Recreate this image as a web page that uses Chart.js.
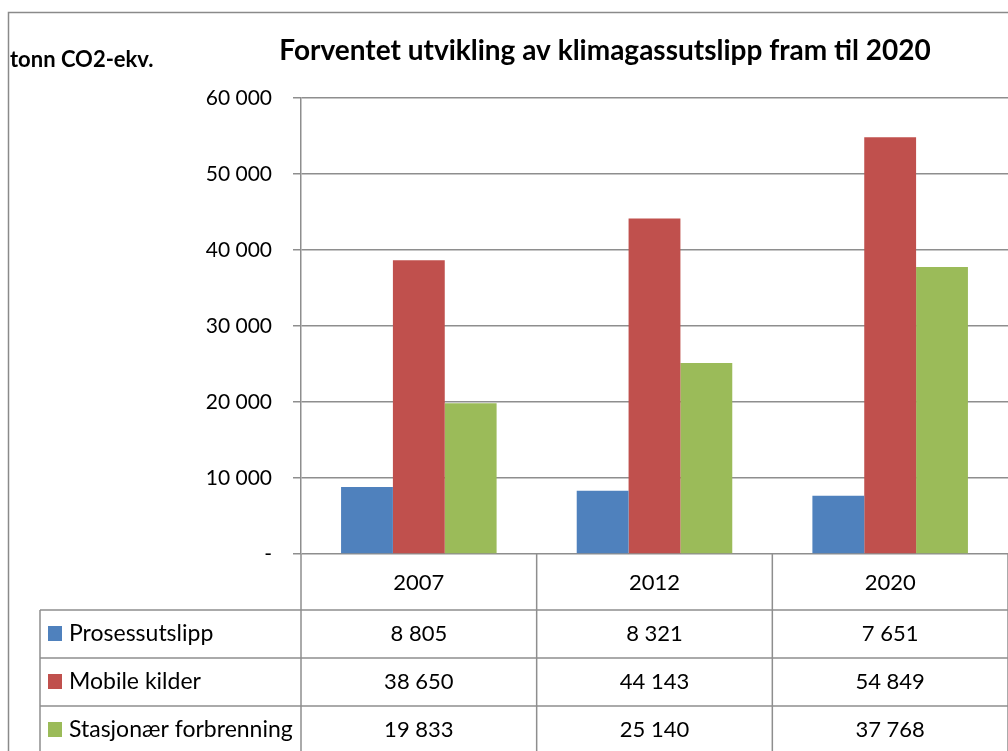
<!DOCTYPE html>
<html><head><meta charset="utf-8">
<script src="https://cdn.jsdelivr.net/npm/chart.js@4"></script>
<style>html,body{margin:0;padding:0;background:#fff;}#wrap{width:1008px;height:751px;}</style>
</head><body><div id="wrap"><canvas id="c" width="1008" height="751"></canvas></div>
<script>
const categories = ['2007', '2012', '2020'];
const seriesNames = ['Prosessutslipp', 'Mobile kilder', 'Stasjonær forbrenning'];
const prosessutslipp = [8805, 8321, 7651];
const mobileKilder = [38650, 44143, 54849];
const stasjonarForbrenning = [19833, 25140, 37768];
const yTicks = [0, 10000, 20000, 30000, 40000, 50000, 60000];
const titleText = 'Forventet utvikling av klimagassutslipp fram til 2020';
const yTitleText = 'tonn CO2-ekv.';
const colors = ['#4F81BD', '#C0504D', '#9BBB59'];
const FONT = "Lato, 'Open Sans', sans-serif";

function fmt(n) {
  if (n === 0) return '-';
  return String(n).replace(/\B(?=(\d{3})+(?!\d))/g, ' ');
}

const seriesData = [prosessutslipp, mobileKilder, stasjonarForbrenning];
const GRID = '#8e8e8e';

const decorPlugin = {
  id: 'decor',
  beforeDraw(chart) {
    const ctx = chart.ctx;
    ctx.save();
    ctx.fillStyle = '#fff';
    ctx.fillRect(0, 0, chart.width, chart.height);
    ctx.restore();
  },
  afterDraw(chart) {
    const ctx = chart.ctx;
    const ca = chart.chartArea;
    const xs = chart.scales.x;
    const catW = (ca.right - ca.left) / categories.length;
    ctx.save();
    // outer border
    ctx.strokeStyle = '#8a8a8a';
    ctx.lineWidth = 1.5;
    ctx.beginPath();
    ctx.moveTo(8.5, chart.height + 5);
    ctx.lineTo(8.5, 12.5);
    ctx.lineTo(chart.width + 5, 12.5);
    ctx.stroke();

    // titles
    ctx.fillStyle = '#000';
    ctx.textBaseline = 'middle';
    ctx.textAlign = 'center';
    ctx.font = "bold 28px " + FONT;
    ctx.fillText(titleText, 605, 51);
    ctx.textAlign = 'left';
    ctx.font = "bold 22px " + FONT;
    ctx.fillText(yTitleText, 10, 60);

    // table
    const top = ca.bottom;
    const rowH = 48;
    const headerBottom = top + 56;
    const tableLeft = 40;
    ctx.strokeStyle = GRID;
    ctx.lineWidth = 1.5;
    ctx.beginPath();
    for (let i = 0; i <= categories.length; i++) {
      const x = ca.left + i * catW;
      ctx.moveTo(x, top);
      ctx.lineTo(x, chart.height + 5);
    }
    ctx.moveTo(tableLeft, headerBottom);
    ctx.lineTo(tableLeft, chart.height + 5);
    for (let r = 0; r < seriesNames.length; r++) {
      const y = headerBottom + r * rowH;
      ctx.moveTo(tableLeft, y);
      ctx.lineTo(chart.width + 5, y);
    }
    ctx.stroke();

    ctx.fillStyle = '#000';
    ctx.textAlign = 'center';
    ctx.font = "22px " + FONT;
    categories.forEach((c, i) => {
      ctx.fillText(c, xs.getPixelForValue(i), top + 29);
    });
    seriesNames.forEach((name, r) => {
      const yc = headerBottom + r * rowH + 24;
      ctx.fillStyle = colors[r];
      ctx.fillRect(48, yc - 8, 14, 15);
      ctx.fillStyle = '#000';
      ctx.textAlign = 'left';
      ctx.font = "23px " + FONT;
      ctx.fillText(name, 69, yc);
      ctx.textAlign = 'center';
      ctx.font = "22px " + FONT;
      seriesData[r].forEach((v, i) => {
        ctx.fillText(fmt(v), xs.getPixelForValue(i), yc);
      });
    });
    ctx.restore();
  }
};

new Chart(document.getElementById('c'), {
  type: 'bar',
  data: {
    labels: categories,
    datasets: seriesNames.map((n, i) => ({
      label: n,
      data: seriesData[i],
      backgroundColor: colors[i],
      borderWidth: 0,
      categoryPercentage: 0.66,
      barPercentage: 1.0
    }))
  },
  options: {
    responsive: false,
    animation: false,
    devicePixelRatio: 1,
    layout: { padding: { top: 98, bottom: 197, left: 0, right: -1 } },
    plugins: { legend: { display: false }, tooltip: { enabled: false }, title: { display: false } },
    scales: {
      x: { display: false },
      y: {
        min: 0, max: 60000,
        afterBuildTicks(scale) { scale.ticks = yTicks.map(v => ({ value: v })); },
        afterFit(scale) { scale.width = 301; },
        border: { color: GRID, width: 1.5 },
        grid: { color: GRID, lineWidth: 1.5, tickLength: 8, drawTicks: true },
        ticks: {
          padding: 21,
          color: '#000',
          font: { family: FONT, size: 21 },
          callback: (v) => fmt(v)
        }
      }
    }
  },
  plugins: [decorPlugin]
});
</script>
</body></html>
